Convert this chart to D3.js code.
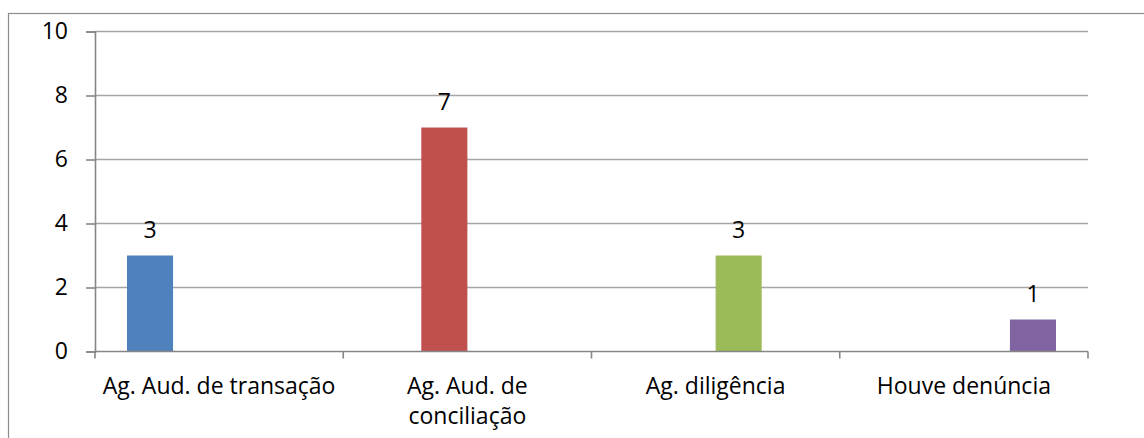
<!DOCTYPE html>
<html>
<head>
<meta charset="utf-8">
<script src="https://cdn.jsdelivr.net/npm/d3@7"></script>
<style>
  html, body { margin: 0; padding: 0; background: #fff; }
  svg { display: block; }
</style>
</head>
<body>
<svg id="chart" width="1144" height="438"></svg>
<script>
// Categories along the x axis (label lines split where the text wraps)
const categories = ["Ag. Aud. de transação", "Ag. Aud. de conciliação", "Ag. diligência", "Houve denúncia"];
const categoryLines = [["Ag. Aud. de transação"], ["Ag. Aud. de", "conciliação"], ["Ag. diligência"], ["Houve denúncia"]];

// One series per category; blank cells are null
const seriesNames = ["Ag. Aud. de transação", "Ag. Aud. de conciliação", "Ag. diligência", "Houve denúncia"];
const seriesA = [3, null, null, null];
const seriesB = [null, 7, null, null];
const seriesC = [null, null, 3, null];
const seriesD = [null, null, null, 1];
const seriesColors = ["#4F81BD", "#C0504D", "#9BBB59", "#8064A2"];

const yTicks = [0, 2, 4, 6, 8, 10];

const allSeries = [seriesA, seriesB, seriesC, seriesD];

const svg = d3.select("#chart");
const font = "'Open Sans', sans-serif";
const fontSize = 23;

// outer chart frame
svg.append("rect")
  .attr("x", 8.5).attr("y", 13.5)
  .attr("width", 1300).attr("height", 600)
  .attr("fill", "none").attr("stroke", "#8C8C8C").attr("stroke-width", 1.2);

const plotLeft = 95, plotRight = 1088, plotTop = 31.5, plotBottom = 351.5;

const x = d3.scaleBand().domain(categories).range([plotLeft, plotRight]).padding(0);
const groupPad = 32;
const xs = d3.scaleBand().domain(seriesNames)
  .range([groupPad, x.bandwidth() - groupPad]).padding(0);
const y = d3.scaleLinear().domain([0, 10]).range([plotBottom, plotTop]);

// horizontal gridlines
svg.append("g").selectAll("line")
  .data(yTicks.filter(t => t > 0))
  .join("line")
  .attr("x1", plotLeft).attr("x2", plotRight)
  .attr("y1", d => y(d)).attr("y2", d => y(d))
  .attr("stroke", "#A5A5A5").attr("stroke-width", 1.6);

// y axis
const yAxis = d3.axisLeft(y).tickValues(yTicks).tickSize(9).tickPadding(18)
  .tickFormat(d3.format("d"));
const gy = svg.append("g").attr("transform", `translate(${plotLeft},0)`).call(yAxis);
gy.select(".domain").attr("stroke", "#868686").attr("stroke-width", 1.6);
gy.selectAll(".tick line").attr("stroke", "#868686").attr("stroke-width", 1.6);
gy.selectAll(".tick text")
  .attr("font-family", font).attr("font-size", fontSize).attr("fill", "#000");

// bars and value labels, one group per series
allSeries.forEach((vals, si) => {
  const pts = categories.map((c, ci) => ({ c, v: vals[ci] })).filter(p => p.v != null);
  svg.append("g").selectAll("rect")
    .data(pts)
    .join("rect")
    .attr("x", p => x(p.c) + xs(seriesNames[si]))
    .attr("width", xs.bandwidth())
    .attr("y", p => y(p.v))
    .attr("height", p => y(0) - y(p.v))
    .attr("fill", seriesColors[si]);
  svg.append("g").selectAll("text")
    .data(pts)
    .join("text")
    .attr("x", p => x(p.c) + xs(seriesNames[si]) + xs.bandwidth() / 2)
    .attr("y", p => y(p.v) - 18)
    .attr("text-anchor", "middle")
    .attr("font-family", font).attr("font-size", fontSize).attr("fill", "#000")
    .text(p => p.v);
});

// x axis line and tick marks at category boundaries
svg.append("line")
  .attr("x1", plotLeft).attr("x2", plotRight).attr("y1", plotBottom).attr("y2", plotBottom)
  .attr("stroke", "#868686").attr("stroke-width", 1.6);
const bounds = categories.map(c => x(c)).concat([plotRight]);
svg.append("g").selectAll("line")
  .data(bounds)
  .join("line")
  .attr("x1", d => d).attr("x2", d => d)
  .attr("y1", plotBottom).attr("y2", plotBottom + 7)
  .attr("stroke", "#868686").attr("stroke-width", 1.6);

// category labels
svg.append("g").selectAll("text")
  .data(categories)
  .join("text")
  .attr("x", d => x(d) + x.bandwidth() / 2)
  .attr("y", 394)
  .attr("text-anchor", "middle")
  .attr("font-family", font).attr("font-size", fontSize).attr("fill", "#000")
  .each(function(d, i) {
    d3.select(this).selectAll("tspan")
      .data(categoryLines[i])
      .join("tspan")
      .attr("x", x(d) + x.bandwidth() / 2)
      .attr("dy", (l, j) => j === 0 ? 0 : 30)
      .text(l => l);
  });
</script>
</body>
</html>
